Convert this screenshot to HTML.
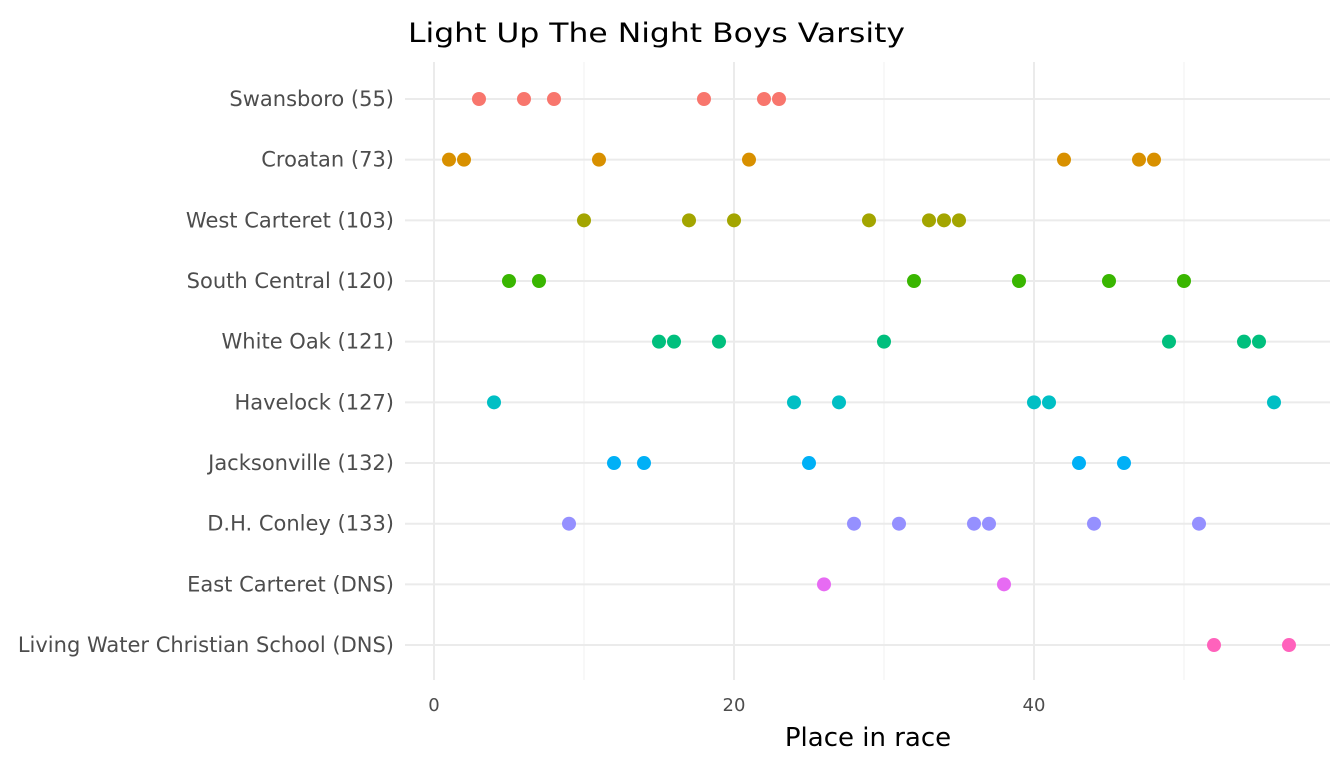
<!DOCTYPE html>
<html><head><meta charset="utf-8"><style>
html,body{margin:0;padding:0;background:#fff;}
svg{display:block;font-family:"DejaVu Sans","Liberation Sans",sans-serif;}
</style></head><body>
<svg id="chart" width="1344" height="768">
<text x="408" y="42" font-size="27" fill="#000" textLength="497" lengthAdjust="spacingAndGlyphs">Light Up The Night Boys Varsity</text>
<g id="grid"></g><g id="ylabels"></g><g id="xlabels"></g><g id="points"></g>
<text x="868" y="746" font-size="26" text-anchor="middle" fill="#000">Place in race</text>
</svg>
<script>
const teams=["Swansboro (55)","Croatan (73)","West Carteret (103)","South Central (120)","White Oak (121)","Havelock (127)","Jacksonville (132)","D.H. Conley (133)","East Carteret (DNS)","Living Water Christian School (DNS)"];
const places=[
[3,6,8,18,22,23],
[1,2,11,21,42,47,48],
[10,17,20,29,33,34,35],
[5,7,32,39,45,50],
[15,16,19,30,49,54,55],
[4,24,27,40,41,56],
[12,14,25,43,46],
[9,28,31,36,37,44,51],
[26,38],
[52,57]];
const colors=["#F8766D","#D89000","#A3A500","#39B600","#00BF7D","#00BFC4","#00B0F6","#9590FF","#E76BF3","#FF62BC"];
const xTicks=[0,20,40];
const xMinor=[10,30,50];
const NS="http://www.w3.org/2000/svg";
const xs=v=>434+v*15;
const ys=i=>99+i*60.67;
const plotLeft=405,plotRight=1330,plotTop=62,plotBottom=680;
function mk(tag,attrs,parent){const e=document.createElementNS(NS,tag);for(const k in attrs)e.setAttribute(k,attrs[k]);parent.appendChild(e);return e;}
const grid=document.getElementById('grid');
xMinor.forEach(v=>{const l=mk('line',{x1:xs(v),x2:xs(v),y1:plotTop,y2:plotBottom,stroke:'#f2f2f2','stroke-width':1.2},grid);

});
xTicks.forEach(v=>{const l=mk('line',{x1:xs(v),x2:xs(v),y1:plotTop,y2:plotBottom,stroke:'#ebebeb','stroke-width':2},grid);


const t=mk('text',{x:xs(v),y:711,'font-size':18,'text-anchor':'middle',fill:'#4d4d4d'},document.getElementById('xlabels'));t.textContent=v;

});
teams.forEach((n,i)=>{const l=mk('line',{x1:plotLeft,x2:plotRight,y1:ys(i),y2:ys(i),stroke:'#ebebeb','stroke-width':2},grid);


const t=mk('text',{x:394,y:ys(i)+7,'font-size':21,'text-anchor':'end',fill:'#4d4d4d'},document.getElementById('ylabels'));t.textContent=n;


places[i].forEach(p=>{const c=mk('circle',{cx:xs(p),cy:ys(i),r:7,fill:colors[i]},document.getElementById('points'));

});});
</script>
</body></html>
